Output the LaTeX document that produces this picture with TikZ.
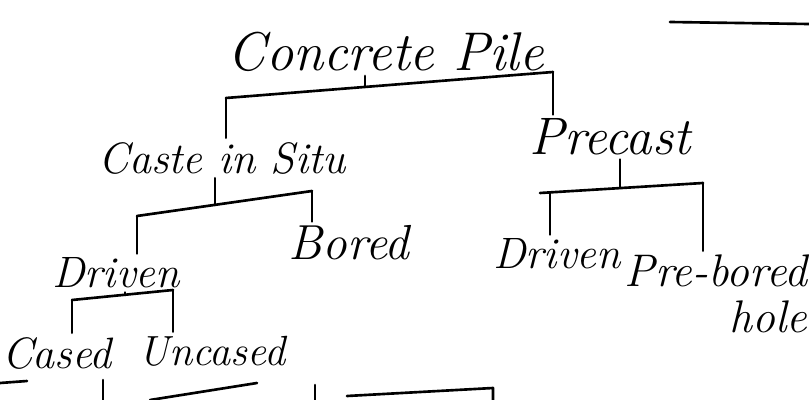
\documentclass[tikz,border=0pt]{standalone}
\usepackage{tikz}
\usetikzlibrary{positioning}

\tikzset{
  label/.style={font=\fontsize{#1}{#1}\selectfont\itshape, inner sep=1pt},
  label/.default=12,
  stroke/.style={line width=0.75pt, line cap=round, line join=round}
}

\begin{document}
\begin{tikzpicture}[x=0.01cm, y=-0.01cm]
\useasboundingbox[fill=white] (0,0) rectangle (809,400);

\node[label=15.5] (pile) at (386,52) {Concrete Pile};
\node[label=12.5] (situ) at (222,158) {Caste in Situ};
\node[label=15] (precast) at (610,137) {Precast};
\node[label=14] (bored) at (349,243) {Bored};
\node[label=12.5] (drivenA) at (116,273) {Driven};
\node[label=12.5] (drivenB) at (557,254) {Driven};
\node[label=13, align=right] (prebored) at (716,294) {Pre-bored\\hole};
\node[label=12.5] (cased) at (57,353) {Cased};
\node[label=12] (uncased) at (212,351) {Uncased};

% Concrete Pile
\coordinate (pileL) at (226,98);
\coordinate (pileR) at (553,72);
\coordinate (pileT) at (365,86);
\draw[stroke] (pileL) -- (pileR);
\draw[stroke] (pile.south -| pileT) -- (pileT);
\draw[stroke] (pileL) -- (situ.north -| pileL);
\draw[stroke] (pileR) -- (precast.north -| pileR);

% Caste in Situ
\coordinate (situL) at (137,216);
\coordinate (situR) at (312,191);
\coordinate (situT) at (215,205);
\draw[stroke] (situL) -- (situR);
\draw[stroke] (situ.south -| situT) -- (situT);
\draw[stroke] (situL) -- (drivenA.north -| situL);
\draw[stroke] (situR) -- (bored.north -| situR);

% Precast
\coordinate (preL) at (540,193);
\coordinate (preR) at (703,183);
\coordinate (preT) at (620,188);
\coordinate (preV) at (550,193);
\draw[stroke] (preL) -- (preR);
\draw[stroke] (precast.south -| preT) -- (preT);
\draw[stroke] (preV) -- (drivenB.north -| preV);
\draw[stroke] (preR) -- (prebored.north -| preR);

% Driven
\coordinate (drvL) at (72,300);
\coordinate (drvR) at (173,290);
\coordinate (drvT) at (125,295);
\draw[stroke] (drvL) -- (drvR);
\draw[stroke] (drivenA.south -| drvT) -- (drvT);
\draw[stroke] (drvL) -- (cased.north -| drvL);
\draw[stroke] (drvR) -- (uncased.north -| drvR);

% cut-off strokes at the edges
\draw[stroke] (670,22) -- (809,24);
\draw[stroke] (0,383) -- (27,381);
\draw[stroke] (103,380) -- (103,400);
\draw[stroke] (150,400) -- (257,383);
\draw[stroke] (315,385) -- (315,400);
\draw[stroke] (347,396) -- (493,388) -- (493,400);

\end{tikzpicture}
\end{document}
